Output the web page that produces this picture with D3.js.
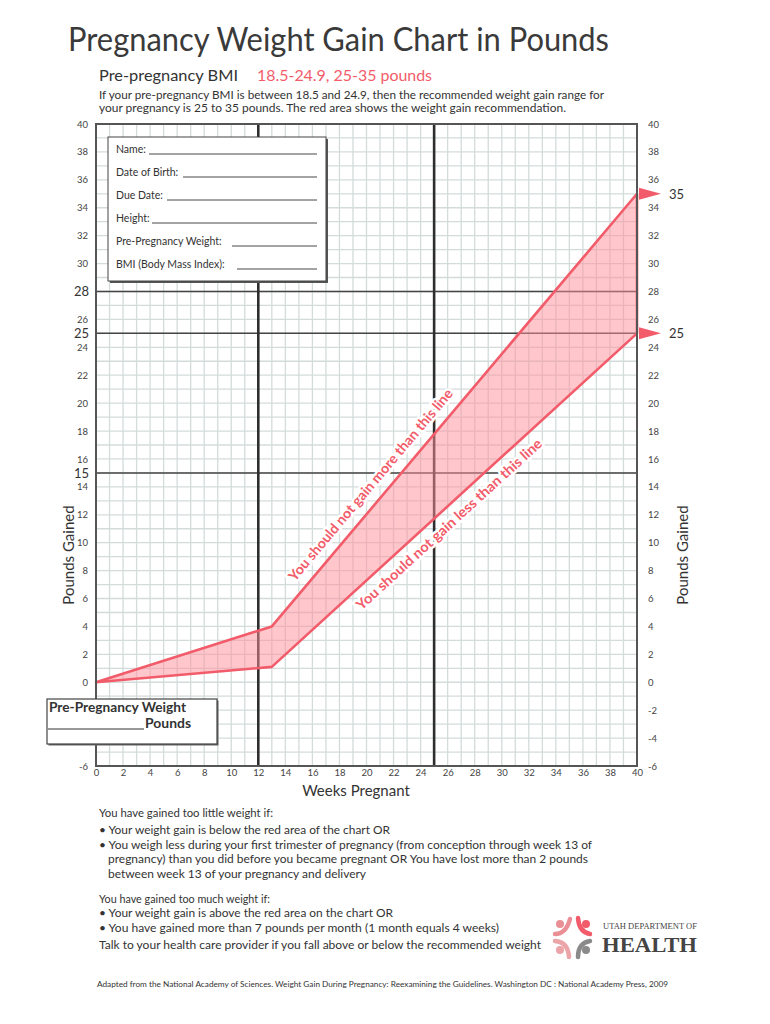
<!DOCTYPE html>
<html><head><meta charset="utf-8">
<script src="https://cdn.jsdelivr.net/npm/d3@7"></script>
<style>
body{margin:0;background:#fff;}
svg{display:block;font-family:Lato,"Open Sans",sans-serif;}
</style></head>
<body><svg id="c" width="770" height="1024"></svg>
<script>
// ---- data ----
const weeks = [0, 13, 40];
const upperGain = [0, 4, 35];
const lowerGain = [0, 1.1, 25];
const xTicks = d3.range(0, 41, 2);
const leftTicks = [40,38,36,34,32,30,26,24,22,20,18,16,14,12,10,8,6,4,2,0,-6];
const leftMajorTicks = [28,25,15];
const rightTicks = d3.range(-6, 41, 2);
const rightMarkers = [35, 25];
const trimesterWeeks = [12, 25];
const refGains = [28, 25, 15];
const formFields = ["Name:", "Date of Birth:", "Due Date:", "Height:", "Pre-Pregnancy Weight:", "BMI (Body Mass Index):"];
const lowLines = [
  "You have gained too little weight if:",
  "• Your weight gain is below the red area of the chart OR",
  "• You weigh less during your first trimester of pregnancy (from conception through week 13 of",
  "pregnancy) than you did before you became pregnant OR You have lost more than 2 pounds",
  "between week 13 of your pregnancy and delivery"
];
const highLines = [
  "You have gained too much weight if:",
  "•  Your weight gain is above the red area on the chart OR",
  "•  You have gained more than 7 pounds per month (1 month equals 4 weeks)",
  "Talk to your health care provider if you fall above or below the recommended weight"
];

const svg = d3.select("#c");
const RED = "#f25c6a", INK = "#333";
const x = d3.scaleLinear().domain([0, 40]).range([96, 637]);
const y = d3.scaleLinear().domain([-6, 40]).range([766, 124]);
const fmt = d => String(d);

function txt(g, s, px, py, size, o = {}) {
  const t = g.append("text").attr("x", px).attr("y", py).text(s)
    .attr("font-size", size).attr("fill", o.fill || INK);
  if (o.anchor) t.attr("text-anchor", o.anchor);
  if (o.weight) t.attr("font-weight", o.weight);
  if (o.family) t.style("font-family", o.family);
  if (o.len) t.attr("textLength", o.len).attr("lengthAdjust", "spacingAndGlyphs");
  return t;
}

// ---- titles ----
txt(svg, "Pregnancy Weight Gain Chart in Pounds", 68, 51, 33, {len: 541, fill: "#3a3a3a"});
txt(svg, "Pre-pregnancy BMI", 99, 81, 16, {len: 139});
txt(svg, "18.5-24.9, 25-35 pounds", 257, 81, 16, {len: 175, fill: RED});
txt(svg, "If your pre-pregnancy BMI is between 18.5 and 24.9, then the recommended weight gain range for", 99, 99, 12, {len: 505});
txt(svg, "your pregnancy is 25 to 35 pounds. The red area shows the weight gain recommendation.", 99, 112, 12, {len: 467});

// ---- grid ----
const grid = svg.append("g");
grid.selectAll("line.v").data(d3.range(0, 41)).join("line")
  .attr("x1", d => x(d)).attr("x2", d => x(d)).attr("y1", y(40)).attr("y2", y(-6))
  .attr("stroke", "#d3dcdb").attr("stroke-width", 1.3);
grid.selectAll("line.h").data(d3.range(-6, 41)).join("line")
  .attr("y1", d => y(d)).attr("y2", d => y(d)).attr("x1", x(0)).attr("x2", x(40))
  .attr("stroke", "#d3dcdb").attr("stroke-width", 1.3);

// reference lines
grid.selectAll("line.ref").data(refGains).join("line")
  .attr("y1", d => y(d)).attr("y2", d => y(d)).attr("x1", x(0)).attr("x2", x(40))
  .attr("stroke", "#444").attr("stroke-width", 1.5);
grid.selectAll("line.tri").data(trimesterWeeks).join("line")
  .attr("x1", d => x(d)).attr("x2", d => x(d)).attr("y1", y(40)).attr("y2", y(-6))
  .attr("stroke", "#2e2e2e").attr("stroke-width", 2.6);

// ---- recommended band ----
const upperPts = weeks.map((w, i) => [x(w), y(upperGain[i])]);
const lowerPts = weeks.map((w, i) => [x(w), y(lowerGain[i])]);
const band = upperPts.concat(lowerPts.slice().reverse());
svg.append("path").attr("d", d3.line()(band) + "Z")
  .attr("fill", "#ff8d99").attr("fill-opacity", 0.5)
  .attr("stroke", RED).attr("stroke-width", 2.6).attr("stroke-linejoin", "round");

// border
svg.append("rect").attr("x", x(0)).attr("y", y(40)).attr("width", x(40) - x(0)).attr("height", y(-6) - y(40))
  .attr("fill", "none").attr("stroke", "#555").attr("stroke-width", 2);

// markers on right
rightMarkers.forEach(v => {
  const py = y(v), px = x(40);
  svg.append("path").attr("d", `M${px+2},${py-6}L${px+24},${py}L${px+2},${py+6}Z`).attr("fill", RED);
  txt(svg, String(v), px + 32, py + 5, 13);
});

// ---- axes ----
const axL = svg.append("g").attr("transform", `translate(${x(0)},0)`)
  .call(d3.axisLeft(y).tickValues(leftTicks).tickFormat(fmt).tickSize(0).tickPadding(8));
const axL2 = svg.append("g").attr("transform", `translate(${x(0)},0)`)
  .call(d3.axisLeft(y).tickValues(leftMajorTicks).tickFormat(fmt).tickSize(0).tickPadding(7));
const axR = svg.append("g").attr("transform", `translate(${x(40)},0)`)
  .call(d3.axisRight(y).tickValues(rightTicks).tickFormat(fmt).tickSize(0).tickPadding(11));
const axB = svg.append("g").attr("transform", `translate(0,${y(-6)})`)
  .call(d3.axisBottom(x).tickValues(xTicks).tickFormat(fmt).tickSize(0).tickPadding(3));
[axL, axL2, axR, axB].forEach(a => {
  a.select(".domain").remove();
  a.attr("font-family", null);
  a.selectAll("text").style("font-family", "Lato, sans-serif").attr("fill", "#444").attr("font-size", 9.5);
});
axL2.selectAll("text").attr("font-size", 13).attr("fill", INK);

// axis titles
txt(svg, "Weeks Pregnant", 356, 796, 15, {anchor: "middle"});
svg.append("text").attr("transform", "translate(74,555) rotate(-90)").attr("text-anchor", "middle")
  .attr("font-size", 15).attr("fill", INK).text("Pounds Gained");
svg.append("text").attr("transform", "translate(688,555) rotate(-90)").attr("text-anchor", "middle")
  .attr("font-size", 15).attr("fill", INK).text("Pounds Gained");

// ---- band labels ----
function bandLabel(pts, i0, i1, wk, txtS, off) {
  const a = pts[i0], b = pts[i1];
  const ang = Math.atan2(b[1] - a[1], b[0] - a[0]) * 180 / Math.PI;
  const t = (x(wk) - a[0]) / (b[0] - a[0]);
  const px = a[0] + t * (b[0] - a[0]), py = a[1] + t * (b[1] - a[1]);
  svg.append("text").attr("transform", `translate(${px},${py}) rotate(${ang})`)
    .attr("y", off).attr("text-anchor", "middle").attr("font-size", 14).attr("font-weight", 700)
    .attr("fill", RED).attr("stroke", "#fff").attr("stroke-width", 5).attr("paint-order", "stroke")
    .attr("stroke-linejoin", "round").attr("textLength", 246).attr("lengthAdjust", "spacingAndGlyphs")
    .text(txtS);
}
bandLabel(upperPts, 1, 2, 21.2, "You should not gain more than this line", -11);
bandLabel(lowerPts, 1, 2, 25.4, "You should not gain less than this line", 19);

// ---- form box ----
const fb = svg.append("g");
fb.append("rect").attr("x", 110).attr("y", 139).attr("width", 218).attr("height", 144).attr("fill", "#555");
fb.append("rect").attr("x", 108).attr("y", 137).attr("width", 218).attr("height", 144)
  .attr("fill", "#fff").attr("stroke", "#444").attr("stroke-width", 1);
const lineStart = [149, 183, 167, 152, 232, 237];
formFields.forEach((f, i) => {
  const by = 153 + i * 23;
  txt(fb, f, 116, by, 10.5);
  fb.append("line").attr("x1", lineStart[i]).attr("x2", 317).attr("y1", by + 1).attr("y2", by + 1)
    .attr("stroke", "#333").attr("stroke-width", 0.9);
});

// ---- pre-pregnancy weight box ----
svg.append("rect").attr("x", 48.5).attr("y", 700.5).attr("width", 170).attr("height", 45).attr("fill", "#666");
svg.append("rect").attr("x", 47).attr("y", 699).attr("width", 170).attr("height", 45)
  .attr("fill", "#fff").attr("stroke", "#444").attr("stroke-width", 1.2);
txt(svg, "Pre-Pregnancy Weight", 49, 712, 12.5, {weight: 700, len: 137});
svg.append("line").attr("x1", 48).attr("x2", 144).attr("y1", 729).attr("y2", 729).attr("stroke", "#333").attr("stroke-width", 1);
txt(svg, "Pounds", 145, 728, 12.5, {weight: 700, len: 46});

// ---- notes ----
const lowX = [99, 99, 99, 108, 108], lowY = [817, 834, 849, 863, 878], lowW = [174, 291, 493, 480, 258];
lowLines.forEach((s, i) => txt(svg, s, lowX[i], lowY[i], 12, {len: lowW[i]}));
const highY = [903, 917, 932, 949], highW = [171, 294, 400, 442];
highLines.forEach((s, i) => txt(svg, s, 99, highY[i], 12, {len: highW[i]}));

txt(svg, "Adapted from the National Academy of Sciences.  Weight Gain During Pregnancy: Reexamining the Guidelines. Washington DC : National Academy Press, 2009",
  97, 987, 8, {len: 571});

// ---- logo ----
const lg = svg.append("g").attr("fill", "none").attr("stroke-width", 4.5).attr("stroke-linecap", "round");
lg.append("circle").attr("cx", 560).attr("cy", 924).attr("r", 4).attr("fill", "#e98f95").attr("stroke", "none");
lg.append("path").attr("d", "M555,934 Q566,934 570,919").attr("stroke", "#e98f95");
lg.append("circle").attr("cx", 586).attr("cy", 924).attr("r", 4).attr("fill", RED).attr("stroke", "none");
lg.append("path").attr("d", "M578,918 Q579,932 590,934").attr("stroke", RED);
lg.append("circle").attr("cx", 560).attr("cy", 950).attr("r", 4).attr("fill", "#eba4a8").attr("stroke", "none");
lg.append("path").attr("d", "M555,941 Q568,942 569,957").attr("stroke", "#eba4a8");
lg.append("circle").attr("cx", 586).attr("cy", 950).attr("r", 4).attr("fill", "#8a8a8a").attr("stroke", "none");
lg.append("path").attr("d", "M590,941 Q578,943 578,957").attr("stroke", "#8a8a8a");
txt(svg, "UTAH DEPARTMENT OF", 603, 929, 7.5, {family: "'Liberation Serif', serif", len: 94, fill: "#444"});
txt(svg, "HEALTH", 602, 952, 21, {family: "'Liberation Serif', serif", len: 95, fill: "#444", weight: 700});
</script></body></html>
